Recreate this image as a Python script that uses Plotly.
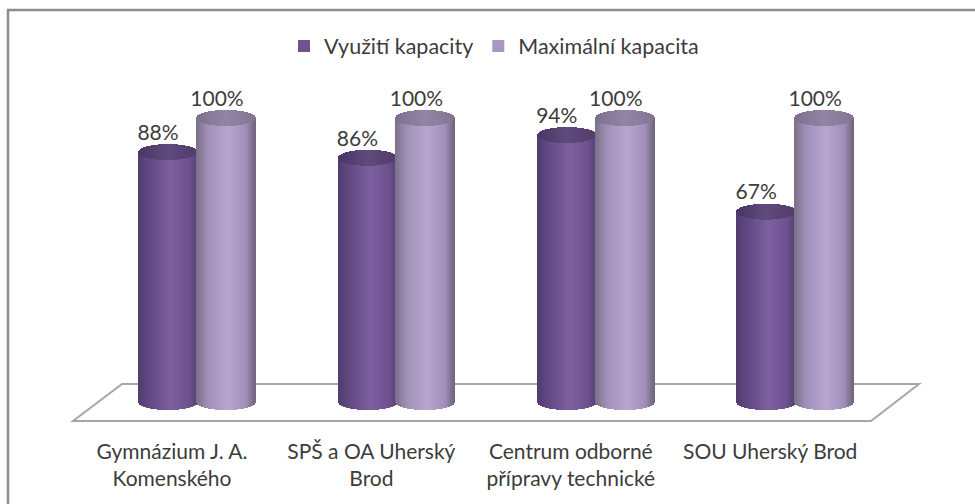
import plotly.graph_objects as go
import numpy as np

categories = ["Gymnázium J. A.<br>Komenského", "SPŠ a OA Uherský<br>Brod", "Centrum odborné<br>přípravy technické", "SOU Uherský Brod"]
series_names = ["Využití kapacity", "Maximální kapacita"]
vyuziti = [88, 86, 94, 67]
maximalni = [100, 100, 100, 100]

W, H = 975, 504
PITCH = 199.4
X0 = 172.0          # pixel of first category tick
Y0 = 402.0          # pixel of value 0
PX_PER_UNIT = 2.84
xr = [-X0 / PITCH, (W - X0) / PITCH]
yr = [-(H - Y0) / PX_PER_UNIT, Y0 / PX_PER_UNIT]
RX = 29.5
RY_UNITS = 8.0 / PX_PER_UNIT

def lerp(a, b, t):
    return tuple(a[i] + (b[i] - a[i]) * t for i in range(3))

def shade(stops, t):
    for (t0, c0), (t1, c1) in zip(stops, stops[1:]):
        if t <= t1:
            return lerp(c0, c1, (t - t0) / (t1 - t0))
    return stops[-1][1]

def rgb(c):
    return "rgb(%d,%d,%d)" % tuple(round(v) for v in c)

body_stops = {
    0: [(0, (80, 58, 110)), (0.12, (92, 68, 124)), (0.55, (125, 96, 160)), (0.85, (110, 82, 144)), (1, (88, 64, 116))],
    1: [(0, (122, 112, 136)), (0.2, (160, 144, 184)), (0.55, (184, 166, 208)), (0.85, (160, 142, 184)), (1, (112, 102, 124))],
}
cap_stops = {
    0: [(0, (74, 54, 100)), (0.5, (94, 74, 124)), (1, (82, 60, 108))],
    1: [(0, (124, 112, 142)), (0.5, (146, 132, 166)), (1, (130, 118, 148))],
}
centers = {0: -3.5, 1: 54.0}
label_dx = {0: -14.0, 1: 45.0}

def cylinder_strips(cat, s, value):
    xs, bases, heights, colors = [], [], [], []
    cx = cat + centers[s] / PITCH
    n = int(2 * RX)
    for i in range(n):
        px = -RX + (i + 0.5) * 2 * RX / n
        t = (i + 0.5) / n
        arc = RY_UNITS * np.sqrt(max(0, 1 - (px / RX) ** 2))
        x = cx + px / PITCH
        xs.append(x); bases.append(-arc); heights.append(value + arc); colors.append(rgb(shade(body_stops[s], t)))
        xs.append(x); bases.append(value - arc); heights.append(2 * arc); colors.append(rgb(shade(cap_stops[s], t)))
    return xs, bases, heights, colors

fig = go.Figure()
for s, vals in enumerate([vyuziti, maximalni]):
    X, B, Y, C = [], [], [], []
    for cat, v in enumerate(vals):
        a, b, c, d = cylinder_strips(cat, s, v)
        X += a; B += b; Y += c; C += d
    fig.add_trace(go.Bar(x=X, y=Y, base=B, width=1.6 / PITCH, marker=dict(color=C, line=dict(width=0)),
                         showlegend=False, hoverinfo="skip"))
for s, vals in enumerate([vyuziti, maximalni]):
    fig.add_trace(go.Scatter(x=[i + label_dx[s] / PITCH for i in range(4)], y=[v + 17.5 / PX_PER_UNIT for v in vals],
                             mode="text", text=[f"{v}%" for v in vals], showlegend=False, hoverinfo="skip",
                             textfont=dict(family="Lato", size=21, color="#3c3c3c")))
for s, col in enumerate(["#6f5390", "#a897c2"]):
    fig.add_trace(go.Bar(x=[None], y=[None], name=series_names[s], marker=dict(color=col, line=dict(width=0))))

def px(x): return x / W
def py(y): return 1 - y / H

floor = [(73, 421), (122, 384), (919, 384), (871, 421)]
path = "M" + " L".join(f"{px(a):.5f},{py(b):.5f}" for a, b in floor) + " Z"
shapes = [
    dict(type="path", xref="paper", yref="paper", path=path, line=dict(color="#a6a6a6", width=2), layer="below"),
    dict(type="rect", xref="paper", yref="paper", x0=px(8), y0=py(10), x1=1.05, y1=-0.05,
         line=dict(color="#8c8c8c", width=2.5), layer="below"),
]

fig.update_layout(
    width=W, height=H, margin=dict(l=0, r=0, t=0, b=0), barmode="overlay", bargap=0,
    paper_bgcolor="white", plot_bgcolor="rgba(0,0,0,0)", shapes=shapes,
    legend=dict(orientation="h", x=px(284), xanchor="left", y=1 - 46 / H, yanchor="middle",
                font=dict(family="Lato", size=21.5, color="#3c3c3c"), bgcolor="rgba(0,0,0,0)", traceorder="normal"),
    xaxis=dict(range=xr, tickmode="array", tickvals=list(range(4)), ticktext=categories, showgrid=False, zeroline=False,
               showline=False, ticks="", anchor="free", position=1 - 437 / H,
               tickfont=dict(family="Lato", size=21, color="#3c3c3c")),
    yaxis=dict(range=yr, showgrid=False, zeroline=False, showline=False, showticklabels=False, ticks=""),
)
fig.write_html("out.html", config={"displayModeBar": False},
               post_script="document.body.style.margin='0';document.body.style.overflow='hidden';")
